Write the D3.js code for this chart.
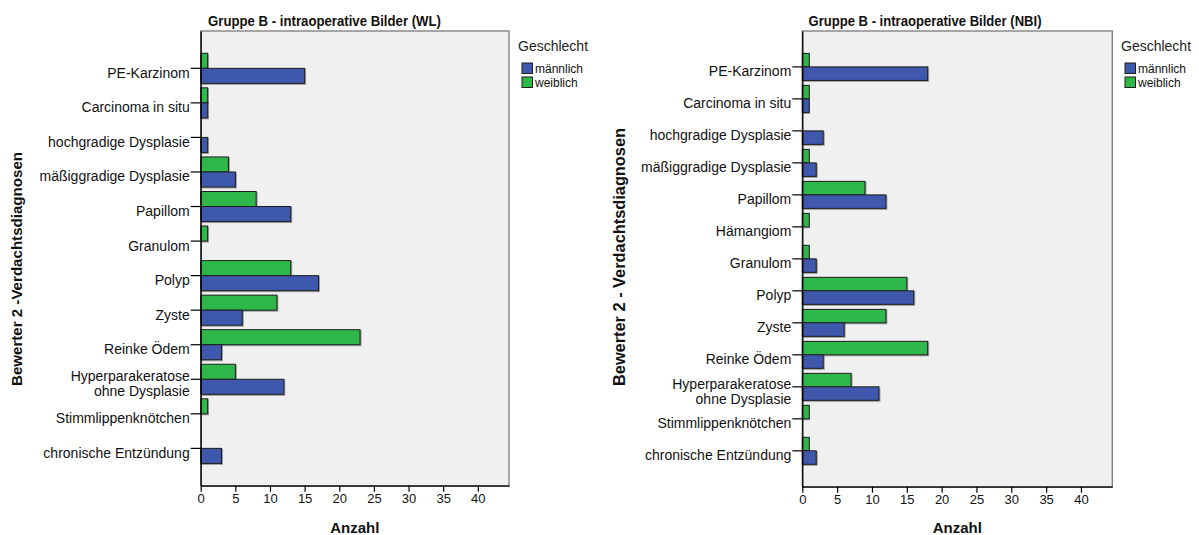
<!DOCTYPE html>
<html>
<head>
<meta charset="utf-8">
<script src="https://cdn.jsdelivr.net/npm/d3@7"></script>
<style>
  html, body { margin: 0; padding: 0; background: #ffffff; }
  svg { display: block; font-family: "Liberation Sans", Arial, sans-serif; }
</style>
</head>
<body>
<svg id="chart" width="1199" height="535"></svg>
<script>
// Diagnoses rated by reviewer 2, split by sex, for white-light (WL) and NBI images
const categoriesWL = [
  "PE-Karzinom", "Carcinoma in situ", "hochgradige Dysplasie", "mäßiggradige Dysplasie",
  "Papillom", "Granulom", "Polyp", "Zyste", "Reinke Ödem",
  "Hyperparakeratose\nohne Dysplasie", "Stimmlippenknötchen", "chronische Entzündung"
];
const maleWL   = [15, 1, 1, 5, 13, 0, 17, 6, 3, 12, 0, 3];
const femaleWL = [1, 1, 0, 4, 8, 1, 13, 11, 23, 5, 1, 0];

const categoriesNBI = [
  "PE-Karzinom", "Carcinoma in situ", "hochgradige Dysplasie", "mäßiggradige Dysplasie",
  "Papillom", "Hämangiom", "Granulom", "Polyp", "Zyste", "Reinke Ödem",
  "Hyperparakeratose\nohne Dysplasie", "Stimmlippenknötchen", "chronische Entzündung"
];
const maleNBI   = [18, 1, 3, 2, 12, 0, 2, 16, 6, 3, 11, 0, 2];
const femaleNBI = [1, 1, 0, 1, 9, 1, 1, 15, 12, 18, 7, 1, 1];

const xTicks = [0, 5, 10, 15, 20, 25, 30, 35, 40];
const seriesKeys = ["weiblich", "männlich"];        // order inside each cluster (top to bottom)
const legendKeys = ["männlich", "weiblich"];
const legendTitle = "Geschlecht";
const xTitle = "Anzahl";

const colors = { "männlich": "#3e58ac", "weiblich": "#2eb848" };

const svg = d3.select("#chart");

const defs = svg.append("defs");
const shadow = defs.append("filter").attr("id", "barShadow")
  .attr("x", "-5%").attr("y", "-20%").attr("width", "115%").attr("height", "150%");
shadow.append("feDropShadow").attr("dx", 1).attr("dy", 1)
  .attr("stdDeviation", 0.7).attr("flood-color", "#000").attr("flood-opacity", 0.35);

function drawPanel(opts) {
  const { categories, male, female, title, yTitle, yTitleSize, yTitleLen, box, padInner, padOuter,
          titleX, yTitleX, yTitleY, legendX } = opts;
  const g = svg.append("g");

  const rows = categories.map((c, i) => ({ cat: c, "männlich": male[i], "weiblich": female[i] }));

  const x = d3.scaleLinear().domain([0, 44.5]).range([box.x0, box.x1]);
  const y = d3.scaleBand().domain(categories).range([box.y0, box.y1])
    .paddingInner(padInner).paddingOuter(padOuter);
  const ySub = d3.scaleBand().domain(seriesKeys).range([0, y.bandwidth()]);

  // plot background
  g.append("rect")
    .attr("x", box.x0).attr("y", box.y0)
    .attr("width", box.x1 - box.x0).attr("height", box.y1 - box.y0)
    .attr("fill", "#f0f0f0").attr("stroke", "#7a7a7a").attr("stroke-width", 1.3);

  // bars
  const cl = g.append("g").selectAll("g").data(rows).join("g")
    .attr("transform", d => `translate(0,${y(d.cat)})`);
  cl.selectAll("rect")
    .data(d => seriesKeys.map(k => ({ key: k, value: d[k] })).filter(v => v.value > 0))
    .join("rect")
    .attr("x", x(0))
    .attr("y", d => ySub(d.key))
    .attr("width", d => x(d.value) - x(0))
    .attr("height", ySub.bandwidth())
    .attr("fill", d => colors[d.key])
    .attr("stroke", "#1e1e1e").attr("stroke-width", 1)
    .attr("filter", "url(#barShadow)");

  // y axis
  const yAxis = g.append("g")
    .attr("transform", `translate(${box.x0},0)`)
    .call(d3.axisLeft(y).tickSize(10).tickPadding(1).tickSizeOuter(0));
  yAxis.select(".domain").attr("stroke", "#000").attr("stroke-width", 1.3);
  yAxis.selectAll(".tick line").attr("stroke", "#000").attr("stroke-width", 1.2);
  yAxis.selectAll(".tick text")
    .attr("font-size", 14).attr("fill", "#111")
    .attr("font-family", "'Liberation Sans', Arial, sans-serif")
    .each(function (d) {
      const t = d3.select(this);
      const lines = d.split("\n");
      t.text(null).attr("dy", null);
      if (lines.length === 1) {
        t.append("tspan").attr("x", -11).attr("y", 9.5).text(lines[0]);
      } else {
        lines.forEach((ln, i) => {
          t.append("tspan").attr("x", -11).attr("y", 2 + i * 15).text(ln);
        });
      }
    });

  // x axis
  const xAxis = g.append("g")
    .attr("transform", `translate(0,${box.y1})`)
    .call(d3.axisBottom(x).tickValues(xTicks).tickSize(6).tickPadding(2).tickSizeOuter(0));
  xAxis.select(".domain").attr("stroke", "#000").attr("stroke-width", 1.3);
  xAxis.selectAll(".tick line").attr("stroke", "#000").attr("stroke-width", 1.2);
  xAxis.selectAll(".tick text")
    .attr("font-size", 13).attr("fill", "#111")
    .attr("font-family", "'Liberation Sans', Arial, sans-serif");

  // titles
  g.append("text")
    .attr("x", titleX).attr("y", 26)
    .attr("text-anchor", "middle")
    .attr("font-size", 14.5).attr("font-weight", "bold").attr("fill", "#111")
    .attr("textLength", 233).attr("lengthAdjust", "spacingAndGlyphs")
    .text(title);

  g.append("text")
    .attr("x", (box.x0 + box.x1) / 2).attr("y", 533)
    .attr("text-anchor", "middle")
    .attr("font-size", 15).attr("font-weight", "bold").attr("fill", "#111")
    .text(xTitle);

  g.append("text")
    .attr("transform", `translate(${yTitleX},${yTitleY}) rotate(-90)`)
    .attr("text-anchor", "middle")
    .attr("font-size", yTitleSize).attr("font-weight", "bold").attr("fill", "#111")
    .attr("textLength", yTitleLen).attr("lengthAdjust", "spacingAndGlyphs")
    .text(yTitle);

  // legend
  const lg = g.append("g").attr("transform", `translate(${legendX},0)`);
  lg.append("text").attr("x", 0).attr("y", 51)
    .attr("font-size", 14).attr("fill", "#222").text(legendTitle);
  const items = lg.selectAll("g.item").data(legendKeys).join("g")
    .attr("class", "item")
    .attr("transform", (d, i) => `translate(4,${63 + i * 14})`);
  items.append("rect")
    .attr("width", 10.5).attr("height", 10.5)
    .attr("fill", d => colors[d]).attr("stroke", "#1e1e1e").attr("stroke-width", 1);
  items.append("text").attr("x", 13).attr("y", 9.5)
    .attr("font-size", 12).attr("fill", "#111").text(d => d);
}

drawPanel({
  categories: categoriesWL, male: maleWL, female: femaleWL,
  title: "Gruppe B - intraoperative Bilder (WL)",
  yTitle: "Bewerter 2 -Verdachtsdiagnosen", yTitleSize: 15, yTitleLen: 234,
  box: { x0: 200.7, x1: 509, y0: 31, y1: 485.7 },
  padInner: 0.13, padOuter: 0.645,
  titleX: 324.5, yTitleX: 22, yTitleY: 269, legendX: 518
});

drawPanel({
  categories: categoriesNBI, male: maleNBI, female: femaleNBI,
  title: "Gruppe B - intraoperative Bilder (NBI)",
  yTitle: "Bewerter 2 - Verdachtsdiagnosen", yTitleSize: 16, yTitleLen: 258,
  box: { x0: 802.3, x1: 1112.3, y0: 31, y1: 486.7 },
  padInner: 0.156, padOuter: 0.7,
  titleX: 925, yTitleX: 625, yTitleY: 257, legendX: 1121
});
</script>
</body>
</html>
